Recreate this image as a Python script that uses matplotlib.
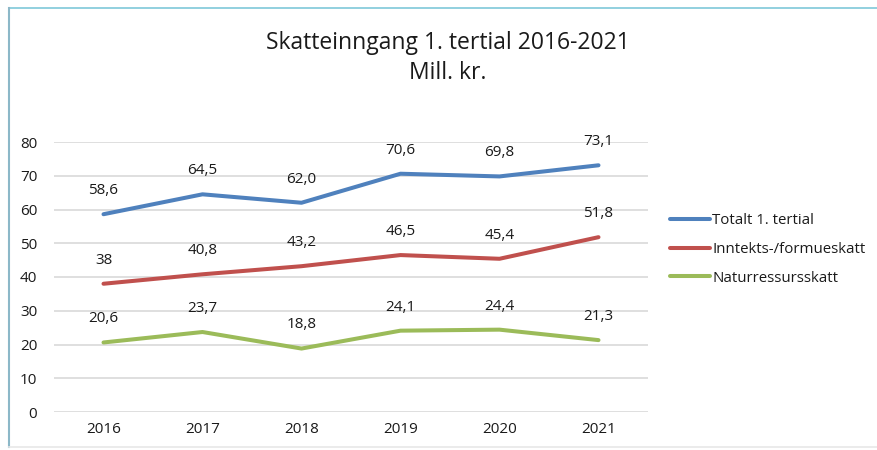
import matplotlib.pyplot as plt
import numpy as np

plt.rcParams['font.family'] = ['Open Sans', 'DejaVu Sans']

years = ['2016', '2017', '2018', '2019', '2020', '2021']
totalt = [58.6, 64.5, 62.0, 70.6, 69.8, 73.1]
inntekt = [38.0, 40.8, 43.2, 46.5, 45.4, 51.8]
natur = [20.6, 23.7, 18.8, 24.1, 24.4, 21.3]
# labels as shown on the chart (Norwegian decimal comma)
totalt_lbl = ['58,6', '64,5', '62,0', '70,6', '69,8', '73,1']
inntekt_lbl = ['38', '40,8', '43,2', '46,5', '45,4', '51,8']
natur_lbl = ['20,6', '23,7', '18,8', '24,1', '24,4', '21,3']
names = ['Totalt 1. tertial', 'Inntekts-/formueskatt', 'Naturressursskatt']
colors = ['#4F81BD', '#C0504D', '#9BBB59']

fig = plt.figure(figsize=(8.77, 4.5), dpi=100)
ax = fig.add_axes([54/877, 38/450, 594/877, 270/450])

x = np.arange(len(years))
series = [(totalt, totalt_lbl), (inntekt, inntekt_lbl), (natur, natur_lbl)]
for (vals, lbls), name, c in zip(series, names, colors):
    ax.plot(x, vals, color=c, lw=2.9, label=name, solid_capstyle='round')
    for xi, v, s in zip(x, vals, lbls):
        ax.annotate(s, (xi, v), xytext=(0, 17), textcoords='offset points',
                    ha='center', va='center', fontsize=11, color='#1a1a1a')

ax.set_xlim(-0.5, 5.5)
ax.set_ylim(0, 80)
ax.set_yticks(range(0, 81, 10))
ax.set_xticks(x)
ax.set_xticklabels(years)
ax.grid(axis='y', color='#D9D9D9', lw=1.2)
ax.set_axisbelow(True)
for sp in ax.spines.values():
    sp.set_visible(False)
ax.tick_params(length=0, labelsize=11, labelcolor='#1a1a1a')
ax.tick_params(axis='y', pad=12)
ax.tick_params(axis='x', pad=7)

fig.text(448/877, 1 - 43/450, 'Skatteinngang 1. tertial 2016-2021', ha='center',
         va='center', fontsize=16.5, color='#1a1a1a')
fig.text(448/877, 1 - 73/450, 'Mill. kr.', ha='center', va='center',
         fontsize=16.5, color='#1a1a1a')

fig.legend(loc='upper left', bbox_to_anchor=(656/877, 1 - 200/450), frameon=False,
           fontsize=10.8, handlelength=2.7, handletextpad=0.15, labelspacing=0.9,
           labelcolor='#1a1a1a')

# chart frame
fig.add_artist(plt.Line2D([9/877, 1], [1 - 8/450, 1 - 8/450], color='#7FC8D9', lw=1.2))
fig.add_artist(plt.Line2D([9/877, 9/877], [1 - 8/450, 3/450], color='#8CB8C8', lw=1.5))
fig.add_artist(plt.Line2D([9/877, 1], [3/450, 3/450], color='#E8E8E8', lw=1.2))

fig.savefig('out.png', dpi=100)
